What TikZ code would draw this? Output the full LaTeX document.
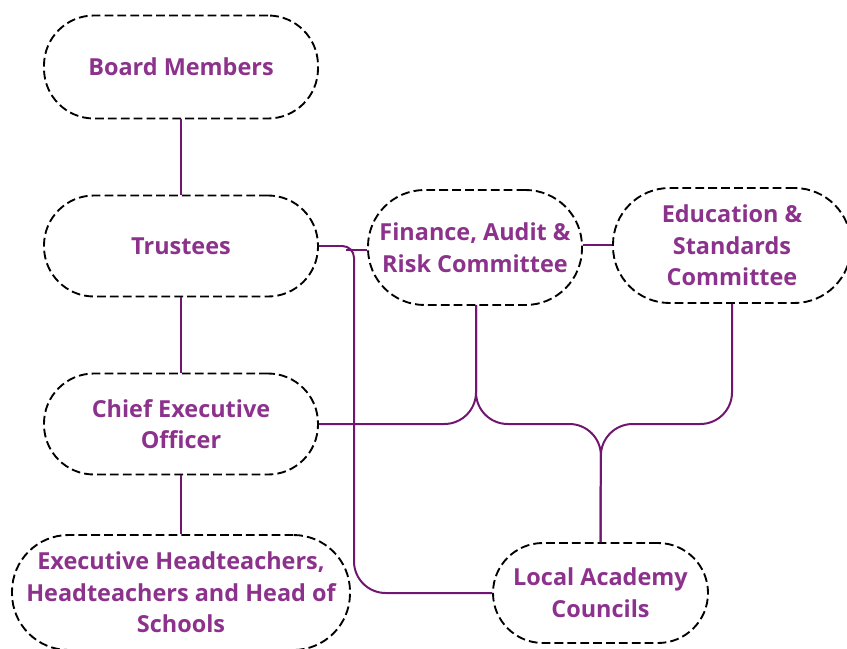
\documentclass[tikz,border=0pt]{standalone}
\usepackage{fontspec}
\setmainfont{Open Sans}
\definecolor{labelpurple}{RGB}{140,50,140}
\definecolor{linkpurple}{RGB}{112,22,112}
\begin{document}
\begin{tikzpicture}[x=0.03cm,y=-0.03cm,
  pill/.style={draw=black, line width=1.6pt, dash pattern=on 7.5pt off 3.5pt,
    rounded corners=#1, align=center, inner sep=0pt,
    font=\fontsize{20}{27}\selectfont\bfseries, text=labelpurple},
  link/.style={draw=linkpurple, line width=1.7pt}]
\useasboundingbox (0,0) rectangle (847,648);

% boxes
\node[pill=1.5cm, minimum width=8.22cm, minimum height=3.09cm] (board) at (181,67) {Board Members};
\node[pill=1.5cm, minimum width=8.22cm, minimum height=3.03cm] (trustees) at (181,246) {Trustees};
\node[pill=1.5cm, minimum width=8.22cm, minimum height=3.03cm] (ceo) at (181,424) {Chief Executive\\Officer};
\node[pill=1.7cm, minimum width=10.14cm, minimum height=3.45cm] (heads) at (181,592.5) {Executive Headteachers,\\Headteachers and Head of\\Schools};
\node[pill=1.7cm, minimum width=6.42cm, minimum height=3.45cm] (finance) at (475,247.5) {Finance, Audit \&\\Risk Committee};
\node[pill=1.7cm, minimum width=7.14cm, minimum height=3.45cm] (education) at (732,245.5) {Education \&\\Standards\\Committee};
\node[pill=1.5cm, minimum width=6.45cm, minimum height=3.0cm] (lac) at (600.5,593) {Local Academy\\Councils};

% vertical chain
\draw[link] (board) -- (trustees);
\draw[link] (trustees) -- (ceo);
\draw[link] (ceo) -- (heads);

% committees
\coordinate (fright) at (583,245);
\draw[link] (fright) -- (fright -| education.west);
\coordinate (fleft) at (346,250);
\draw[link] (finance.west |- fleft) -- (fleft);

% trustees to local councils
\draw[link] (trustees.east) [rounded corners=0.35cm] -- (354,246)
  [rounded corners=0.95cm] -- (354,593) -- (lac.west);

% CEO and committees to local councils
\draw[link, rounded corners=0.95cm] (ceo.east) -- (476,424) -- (476,305);
\draw[link, rounded corners=0.95cm] (476,305) -- (476,424) -- (601,424) -- (lac.north);
\draw[link, rounded corners=0.95cm] (education.south) -- (732,424) -- (601,424) -- (lac.north);
\end{tikzpicture}
\end{document}
